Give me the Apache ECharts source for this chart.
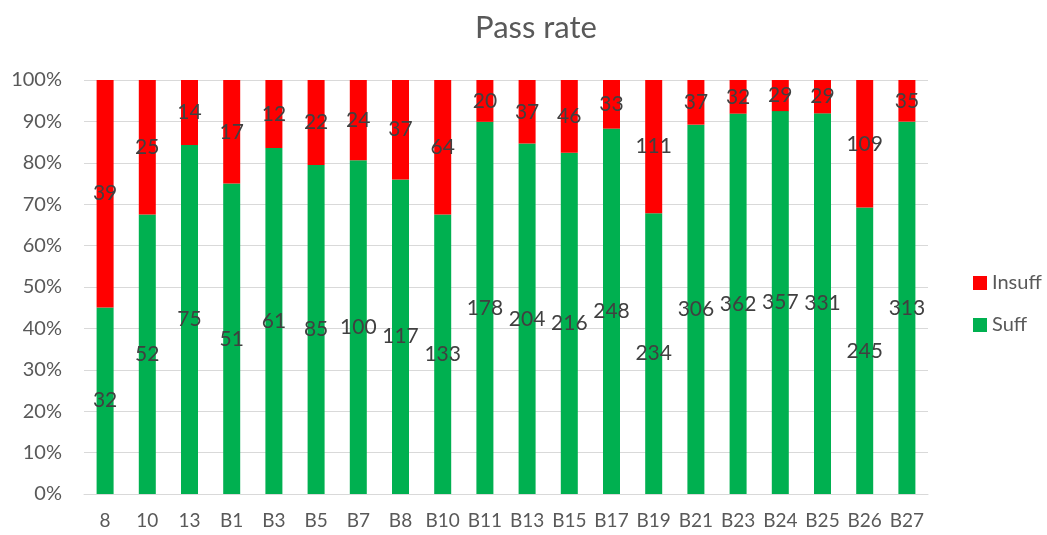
<!DOCTYPE html>
<html><head><meta charset="utf-8">
<script src="https://cdn.jsdelivr.net/npm/echarts@6/dist/echarts.min.js"></script>
<style>html,body{margin:0;padding:0;background:#fff}#c{width:1047px;height:535px}</style>
</head><body><div id="c"></div>
<script>
const categories = ["8","10","13","B1","B3","B5","B7","B8","B10","B11","B13","B15","B17","B19","B21","B23","B24","B25","B26","B27"];
const suff = [32,52,75,51,61,85,100,117,133,178,204,216,248,234,306,362,357,331,245,313];
const insuff = [39,25,14,17,12,22,24,37,64,20,37,46,33,111,37,32,29,29,109,35];

const pct = (arr, i) => arr[i] / (suff[i] + insuff[i]) * 100;
const suffPct = suff.map((v, i) => ({value: pct(suff, i), raw: v}));
const insuffPct = insuff.map((v, i) => ({value: pct(insuff, i), raw: v}));

const font = "Lato, 'Liberation Sans', sans-serif";
const chart = echarts.init(document.getElementById('c'), null, {renderer: 'canvas'});
const lbl = {show: true, position: 'inside', color: '#404040', fontSize: 21, fontFamily: font,
  formatter: p => p.data.raw};
chart.setOption({
  animation: false,
  title: {text: 'Pass rate', left: 531, top: 7, textAlign: 'center',
    textStyle: {fontSize: 31, fontWeight: 'normal', color: '#595959', fontFamily: font}},
  legend: {orient: 'vertical', left: 968, top: 268, itemWidth: 14, itemHeight: 14, itemGap: 22,
    icon: 'rect', data: ['Insuff', 'Suff'],
    textStyle: {fontSize: 20, color: '#595959', fontFamily: font}},
  grid: {left: 84, right: 1047 - 928, top: 80, bottom: 535 - 494, containLabel: false},
  xAxis: {type: 'category', data: categories,
    axisLine: {lineStyle: {color: '#d9d9d9'}}, axisTick: {show: false},
    axisLabel: {interval: 0, color: '#595959', fontSize: 19, fontFamily: font, margin: 17}},
  yAxis: {type: 'value', min: 0, max: 100, interval: 10,
    axisLabel: {formatter: '{value}%', color: '#595959', fontSize: 20, fontFamily: font, margin: 22},
    splitLine: {lineStyle: {color: '#d9d9d9', width: 1}},
    axisLine: {show: false}, axisTick: {show: false}},
  series: [
    {name: 'Suff', type: 'bar', stack: 't', data: suffPct, barWidth: 17,
      itemStyle: {color: '#00B050'}, label: lbl},
    {name: 'Insuff', type: 'bar', stack: 't', data: insuffPct, barWidth: 17,
      itemStyle: {color: '#FF0000'}, label: lbl}
  ]
});
</script></body></html>
